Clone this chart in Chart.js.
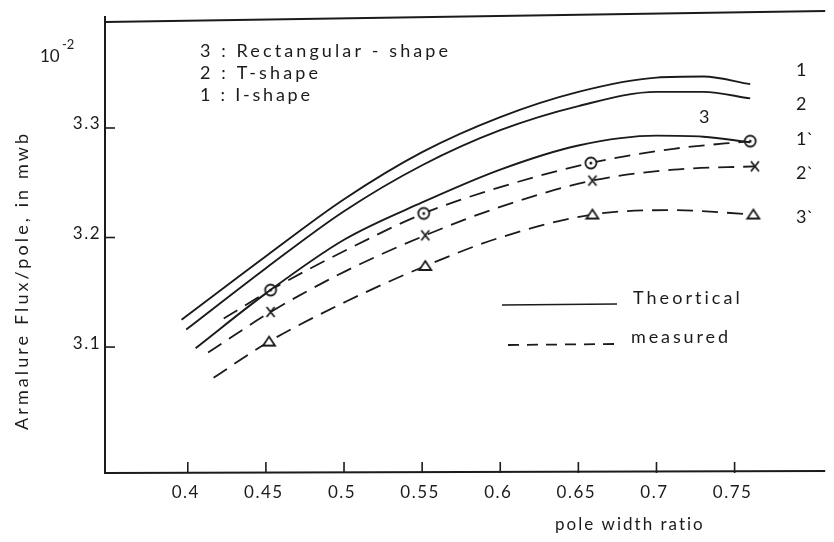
<!DOCTYPE html>
<html>
<head>
<meta charset="utf-8">
<script src="https://cdn.jsdelivr.net/npm/chart.js@4.4.1/dist/chart.umd.min.js"></script>
<style>
    html, body { margin: 0; padding: 0; background: #fff; }
</style>
</head>
<body>
<canvas id="fluxChart" width="834" height="542"></canvas>
<script>
// axis ticks (flux in units of 10^-2 mwb)
const xTicks = [0.4, 0.45, 0.5, 0.55, 0.6, 0.65, 0.7, 0.75];
const yTicks = [3.1, 3.2, 3.3];

// theoretical curves 1, 2, 3
const theoX1 = [0.396, 0.45, 0.5, 0.55, 0.6, 0.65, 0.7, 0.73, 0.76];
const theoY1 = [3.125, 3.183, 3.235, 3.278, 3.310, 3.333, 3.346, 3.347, 3.340];
const theoX2 = [0.399, 0.45, 0.5, 0.55, 0.6, 0.65, 0.7, 0.73, 0.76];
const theoY2 = [3.116, 3.172, 3.224, 3.266, 3.298, 3.320, 3.333, 3.333, 3.327];
const theoX3 = [0.405, 0.45, 0.5, 0.55, 0.6, 0.65, 0.7, 0.73, 0.76];
const theoY3 = [3.099, 3.149, 3.198, 3.232, 3.262, 3.284, 3.293, 3.292, 3.287];

// measured curves 1', 2', 3' (markers on every second point)
const measX1 = [0.423, 0.453, 0.502, 0.551, 0.6, 0.658, 0.711, 0.76];
const measY1 = [3.126, 3.152, 3.189, 3.222, 3.246, 3.268, 3.281, 3.288];
const measX2 = [0.413, 0.453, 0.502, 0.552, 0.6, 0.659, 0.711, 0.763];
const measY2 = [3.095, 3.132, 3.170, 3.202, 3.228, 3.252, 3.262, 3.265];
const measX3 = [0.4165, 0.452, 0.502, 0.552, 0.6, 0.659, 0.711, 0.762];
const measY3 = [3.072, 3.105, 3.142, 3.174, 3.200, 3.221, 3.225, 3.221];
const markerIdx = [1, 3, 5, 7];

const shapeNotes = ["3 : Rectangular - shape", "2 : T-shape", "1 : I-shape"];
const curveNames = ["1", "2", "3", "1`", "2`", "3`"];
const legendNames = ["Theortical", "measured"];

const INK = "#1b1b1b";
const FONT = "Lato, 'Open Sans', sans-serif";

function toPoints(xs, ys) {
    return xs.map((x, i) => ({ x: x, y: ys[i] }));
}

// small marker images
function makeMarker(kind) {
    const c = document.createElement("canvas");
    c.width = 16; c.height = 16;
    const g = c.getContext("2d");
    g.strokeStyle = INK; g.fillStyle = "#fff"; g.lineWidth = 1.8;
    if (kind === "circle") {
        g.beginPath(); g.arc(8, 8, 5.5, 0, Math.PI * 2); g.fill(); g.stroke();
        g.fillStyle = INK;
        g.beginPath(); g.arc(8, 8, 1.5, 0, Math.PI * 2); g.fill();
    } else if (kind === "cross") {
        g.beginPath();
        g.moveTo(4, 3); g.lineTo(12, 13);
        g.moveTo(12, 3); g.lineTo(4, 13);
        g.stroke();
    } else {
        g.beginPath(); g.moveTo(8, 3); g.lineTo(14, 12); g.lineTo(2, 12); g.closePath();
        g.fill(); g.stroke();
    }
    return c;
}

function theoSet(xs, ys) {
    return {
        data: toPoints(xs, ys),
        borderColor: INK,
        borderWidth: 1.9,
        pointRadius: 0,
        cubicInterpolationMode: "monotone",
        fill: false
    };
}

function measSet(xs, ys, marker) {
    return {
        data: toPoints(xs, ys),
        borderColor: INK,
        borderWidth: 1.8,
        borderDash: [16, 9],
        pointStyle: marker,
        pointRadius: ctx => markerIdx.includes(ctx.dataIndex) ? 7 : 0,
        cubicInterpolationMode: "monotone",
        fill: false
    };
}

// draw text stretched to a given width
function fitText(ctx, str, x, y, w) {
    ctx.letterSpacing = "0px";
    const m = ctx.measureText(str).width;
    const n = Array.from(str).length;
    const sp = n > 1 ? (w - m) / (n - 1) : 0;
    ctx.letterSpacing = sp.toFixed(2) + "px";
    ctx.fillText(str, x, y);
    ctx.letterSpacing = "0px";
}

const paperAxes = {
    id: "paperAxes",
    afterDraw(chart) {
        const ctx = chart.ctx;
        const a = chart.chartArea;
        const xs = chart.scales.x, ys = chart.scales.y;
        ctx.save();
        ctx.strokeStyle = INK;
        ctx.fillStyle = INK;

        // frame: left, bottom, top
        ctx.lineWidth = 2;
        ctx.beginPath();
        ctx.moveTo(a.left, a.top - 4);
        ctx.lineTo(a.left, a.bottom);
        ctx.lineTo(a.right, a.bottom - 2);
        ctx.stroke();
        ctx.beginPath();
        ctx.moveTo(a.left, a.top + 2);
        ctx.lineTo(a.right, a.top - 9);
        ctx.stroke();

        // inward ticks
        ctx.lineWidth = 1.6;
        xTicks.forEach(v => {
            const px = xs.getPixelForValue(v);
            ctx.beginPath(); ctx.moveTo(px, a.bottom); ctx.lineTo(px, a.bottom - 11); ctx.stroke();
        });
        yTicks.forEach(v => {
            const py = ys.getPixelForValue(v);
            ctx.beginPath(); ctx.moveTo(a.left, py); ctx.lineTo(a.left + 10, py); ctx.stroke();
        });

        // tick labels
        ctx.font = "17px " + FONT;
        ctx.letterSpacing = "1.5px";
        ctx.textBaseline = "middle";
        ctx.textAlign = "center";
        xTicks.forEach(v => {
            ctx.fillText(String(v), xs.getPixelForValue(v) - 2, a.bottom + 20);
        });
        ctx.textAlign = "right";
        yTicks.forEach(v => {
            ctx.fillText(v.toFixed(1), a.left - 4, ys.getPixelForValue(v) - 4);
        });
        ctx.letterSpacing = "0px";

        // 10^-2 multiplier
        ctx.textAlign = "left";
        ctx.font = "17px " + FONT;
        ctx.fillText("10", 40, 57);
        ctx.font = "13px " + FONT;
        ctx.fillText("-2", 62, 45);

        // axis titles
        ctx.font = "17px " + FONT;
        fitText(ctx, "pole width ratio", 555, 525, 148);
        ctx.save();
        ctx.translate(22, 282);
        ctx.rotate(-Math.PI / 2);
        ctx.font = "18px " + FONT;
        fitText(ctx, "Armalure Flux/pole, in mwb", -148, 0, 296);
        ctx.restore();

        // shape notes
        ctx.font = "18px " + FONT;
        fitText(ctx, shapeNotes[0], 200, 51, 248);
        fitText(ctx, shapeNotes[1], 200, 73, 118);
        fitText(ctx, shapeNotes[2], 200, 95, 110);

        // curve numbers
        const numPos = [[796, 70], [796, 104], [699, 117], [796, 139], [796, 173], [796, 217]];
        ctx.font = "18px " + FONT;
        curveNames.forEach((s, i) => ctx.fillText(s, numPos[i][0], numPos[i][1]));

        // line style legend
        ctx.lineWidth = 1.3;
        ctx.beginPath(); ctx.moveTo(502, 305); ctx.lineTo(617, 304); ctx.stroke();
        ctx.lineWidth = 1.8;
        ctx.setLineDash([11, 8]);
        ctx.beginPath(); ctx.moveTo(508, 345); ctx.lineTo(615, 344); ctx.stroke();
        ctx.setLineDash([]);
        ctx.font = "18px " + FONT;
        fitText(ctx, legendNames[0], 633, 298, 107);
        fitText(ctx, legendNames[1], 631, 337, 97);

        ctx.restore();
    }
};

new Chart(document.getElementById("fluxChart"), {
    type: "line",
    data: {
        datasets: [
            theoSet(theoX1, theoY1),
            theoSet(theoX2, theoY2),
            theoSet(theoX3, theoY3),
            measSet(measX1, measY1, makeMarker("circle")),
            measSet(measX2, measY2, makeMarker("cross")),
            measSet(measX3, measY3, makeMarker("triangle"))
        ]
    },
    options: {
        responsive: false,
        animation: false,
        layout: { padding: { left: 105, right: 0, top: 20, bottom: 69 } },
        scales: {
            x: { type: "linear", display: false, min: 0.347, max: 0.808 },
            y: { type: "linear", display: false, min: 2.985, max: 3.3986 }
        },
        plugins: {
            legend: { display: false },
            tooltip: { enabled: false }
        }
    },
    plugins: [paperAxes]
});
</script>
</body>
</html>
